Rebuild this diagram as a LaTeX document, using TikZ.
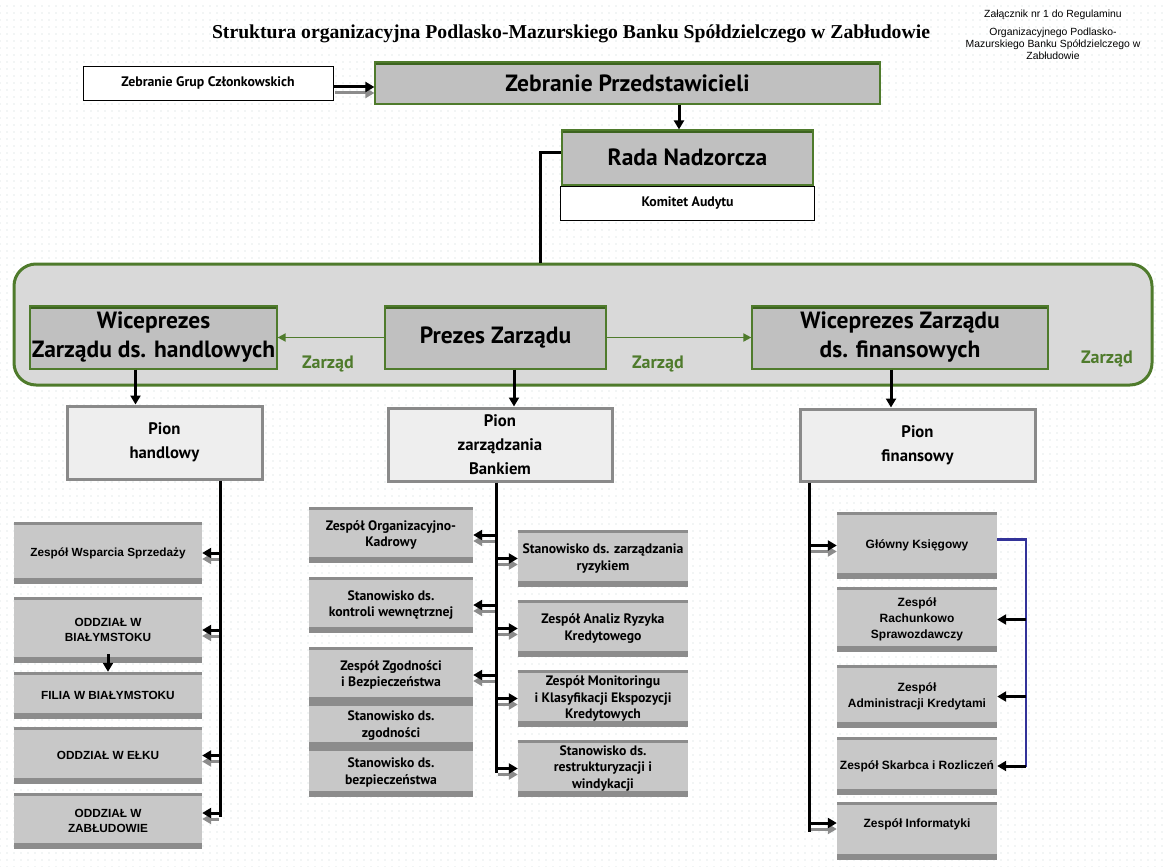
\documentclass[tikz,border=0pt]{standalone}
\usepackage{fontspec}
\setmainfont{Liberation Sans}
\newfontfamily\tahoma{PT Sans}
\newfontfamily\titlefont{Liberation Serif}
\usepackage{xcolor}
\usetikzlibrary{positioning, arrows.meta, patterns.meta}
\definecolor{zgreen}{HTML}{4F7B2C}
\definecolor{zgreendk}{HTML}{3D6420}
\definecolor{boxgray}{HTML}{C0C0C0}
\definecolor{bandfill}{HTML}{D9D9D9}
\definecolor{unitfill}{HTML}{C8C8C8}
\definecolor{unitband}{HTML}{8C8C8C}
\definecolor{pionfill}{HTML}{EEEEEE}
\definecolor{pionedge}{HTML}{8A8A8A}
\definecolor{shadowgray}{HTML}{8C8C8C}
\definecolor{lineblue}{HTML}{333399}
\definecolor{dotc}{HTML}{C8D8D8}
\begin{document}
\begin{tikzpicture}[x=1pt,y=-1pt,
zgbox/.style={draw=zgreen, line width=1.2pt, fill=boxgray, inner sep=1pt, align=center,
  font=\tahoma\bfseries\fontsize{23.5}{29}\selectfont,
  path picture={\fill[zgreendk] (path picture bounding box.north west) rectangle ([yshift=-3pt]path picture bounding box.north east);}},
plainbox/.style={draw=black, line width=0.8pt, fill=white, inner sep=1pt, font=\tahoma\bfseries\fontsize{13.8}{16}\selectfont},
pionbox/.style={draw=pionedge, line width=3pt, fill=pionfill, align=center, font=\tahoma\bfseries\fontsize{16.7}{24}\selectfont},
unitbox/.style={fill=unitfill, inner sep=1pt, align=center,
  path picture={\fill[unitband] (path picture bounding box.south west) rectangle ([yshift=6pt]path picture bounding box.south east);
  \fill[unitband] (path picture bounding box.north west) rectangle ([yshift=-2.5pt]path picture bounding box.north east);}},
lunit/.style={unitbox, minimum width=188pt, font=\bfseries\fontsize{11.8}{15}\selectfont},
munit/.style={unitbox, font=\tahoma\bfseries\fontsize{13.7}{16.5}\selectfont},
runit/.style={unitbox, minimum width=160pt, font=\bfseries\fontsize{12}{16}\selectfont},
trunk/.style={line width=3pt},
arr/.style={line width=3pt, -{Triangle[length=9pt,width=10pt]}},
shadowarr/.style={arr, draw=shadowgray, fill=shadowgray, shorten <=1.5pt},
greenarr/.style={draw=zgreen, line width=1.8pt, -{Triangle[length=8pt,width=8pt]}},
zlabel/.style={text=zgreen, font=\tahoma\bfseries\fontsize{18}{20}\selectfont}]
\fill[white] (0,0) rectangle (1168,867);
\fill[pattern={Dots[distance=7pt,radius=0.6pt]}, pattern color=dotc] (0,0) rectangle (1168,867);
\useasboundingbox (0,0) rectangle (1168,867);
\node[font=\titlefont\bfseries\fontsize{19.7}{21}\selectfont] (title) at (571,34) {Struktura organizacyjna Podlasko-Mazurskiego Banku Spółdzielczego w Zabłudowie};
\node[font=\fontsize{10.4}{12}\selectfont] (zal) at (1053,15) {Załącznik nr 1 do Regulaminu};
\node[font=\fontsize{10.4}{12}\selectfont, align=center] (reg) at (1053,44) {Organizacyjnego Podlasko-\\Mazurskiego Banku Spółdzielczego w\\Zabłudowie};
\node[zgbox, minimum width=505pt, minimum height=42pt] (zp) at (627.5,83) {Zebranie Przedstawicieli};
\node[plainbox, minimum width=250pt, minimum height=34pt] (grup) at (208,83) {Zebranie Grup Członkowskich};
\node[zgbox, minimum width=251pt, minimum height=55pt] (rada) at (687.5,157.5) {Rada Nadzorcza};
\node[plainbox, minimum width=254pt, minimum height=34pt, below=0pt of rada] (kom) {Komitet Audytu};
\node[draw=zgreen, line width=3pt, rounded corners=22pt, fill=bandfill, minimum width=1138pt, minimum height=121pt] (band) at (583,324.5) {};
\node[zgbox, minimum width=247pt, minimum height=63pt] (wh) at (153.5,337.5) {Wiceprezes\\Zarządu ds. handlowych};
\node[zgbox, minimum width=221pt, minimum height=63pt] (prez) at (495.5,337.5) {Prezes Zarządu};
\node[zgbox, minimum width=296pt, minimum height=63pt] (wf) at (900,337.5) {Wiceprezes Zarządu\\ds. finansowych};
\node[zlabel] (z1) at (328,364) {Zarząd};
\node[zlabel] (z2) at (658,364) {Zarząd};
\node[zlabel] (z3) at (1107,359) {Zarząd};
\node[pionbox, minimum width=195pt, minimum height=73pt] (ph) at (164.5,442.5) {Pion\\handlowy};
\node[pionbox, minimum width=224pt, minimum height=73pt] (pz) at (500,444.5) {Pion\\zarządzania\\Bankiem};
\node[pionbox, minimum width=235pt, minimum height=72pt] (pf) at (917.5,445) {Pion\\finansowy};
\node[lunit, minimum height=62pt] (zws) at (108,553) {Zespół Wsparcia Sprzedaży};
\node[lunit, minimum height=66pt] (obia) at (108,630) {ODDZIAŁ W\\BIAŁYMSTOKU};
\node[lunit, minimum height=47pt] (fbia) at (108,695.5) {FILIA W BIAŁYMSTOKU};
\node[lunit, minimum height=57pt] (oelk) at (108,755.5) {ODDZIAŁ W EŁKU};
\node[lunit, minimum height=56pt] (ozab) at (108,821) {ODDZIAŁ W\\ZABŁUDOWIE};
\node[munit, minimum width=164pt, minimum height=56pt] (mok) at (391,535) {Zespół Organizacyjno-\\Kadrowy};
\node[munit, minimum width=164pt, minimum height=56pt] (mkw) at (391,605) {Stanowisko ds.\\kontroli wewnętrznej};
\node[munit, minimum width=164pt, minimum height=56pt] (mzb) at (391,675) {Zespół Zgodności\\i Bezpieczeństwa};
\node[munit, minimum width=164pt, minimum height=45pt] (msz) at (391,725.5) {Stanowisko ds.\\zgodności};
\node[munit, minimum width=164pt, minimum height=49pt] (msb) at (391,772.5) {Stanowisko ds.\\bezpieczeństwa};
\node[munit, minimum width=170pt, minimum height=57pt] (mry) at (603,558.5) {Stanowisko ds. zarządzania\\ryzykiem};
\node[munit, minimum width=170pt, minimum height=57pt] (mar) at (603,628.5) {Zespół Analiz Ryzyka\\Kredytowego};
\node[munit, minimum width=170pt, minimum height=57pt] (mmk) at (603,698.5) {Zespół Monitoringu\\i Klasyfikacji Ekspozycji\\Kredytowych};
\node[munit, minimum width=170pt, minimum height=57pt] (mrw) at (603,768.5) {Stanowisko ds.\\restrukturyzacji i\\windykacji};
\node[runit, minimum height=67pt] (rgk) at (917,545.5) {Główny Księgowy};
\node[runit, minimum height=65pt] (rrs) at (917,619.5) {Zespół\\Rachunkowo\\Sprawozdawczy};
\node[runit, minimum height=63pt] (rak) at (917,696.5) {Zespół\\Administracji Kredytami};
\node[runit, minimum height=58pt] (rsr) at (917,766) {Zespół Skarbca i Rozliczeń};
\node[runit, minimum height=58pt] (rin) at (917,831) {Zespół Informatyki\\\mbox{}};
\draw[shadowarr, transform canvas={yshift=-10pt}] (grup.east) -- (grup.east -| zp.west);
\draw[arr, transform canvas={yshift=-4pt}] (grup.east) -- (grup.east -| zp.west);
\draw[arr, transform canvas={xshift=-8.5pt}] (rada.north |- zp.south) -- (rada.north);
\draw[trunk] ([yshift=5pt]rada.west) -| ([xshift=-43pt]band.north);
\draw[greenarr] (prez.west) -- (wh.east);
\draw[greenarr] (prez.east) -- (wf.west);
\draw[arr, transform canvas={xshift=-18pt}] (wh.south) -- (wh.south |- ph.north);
\draw[arr, transform canvas={xshift=18.5pt}] (prez.south) -- (prez.south |- pz.north);
\draw[arr, transform canvas={xshift=-9pt}] (wf.south) -- (wf.south |- pf.north);
\coordinate (lend) at (220,817);
\coordinate (mend) at (496,773);
\coordinate (rend) at (809,832);
\coordinate (bend) at (1026,767);
\draw[trunk] (ph.south -| lend) -- (lend);
\draw[trunk] (pz.south -| mend) -- (mend);
\draw[trunk] (pf.south -| rend) -- (rend);
\foreach \b/\a/\t/\s in {zws/east/lend/0pt, obia/east/lend/0pt, oelk/east/lend/0pt, ozab/east/lend/8pt,
  mok/east/mend/0pt, mkw/east/mend/0pt, mzb/east/mend/0pt,
  mry/west/mend/0pt, mar/west/mend/0pt, mmk/west/mend/0pt, mrw/west/mend/0pt,
  rgk/west/rend/0pt, rin/west/rend/8pt} {
\draw[shadowarr, transform canvas={yshift=\s-6pt}] (\t |- \b.\a) -- (\b.\a);
\draw[arr, transform canvas={yshift=\s}] (\t |- \b.\a) -- (\b.\a);
}
\draw[arr] ([yshift=9pt]obia.south) -- (fbia.north);
\draw[line width=2.6pt, lineblue] ([yshift=6pt]rgk.east) -| (bend);
\foreach \b in {rrs, rak, rsr}
\draw[arr] (bend |- \b.east) -- (\b.east);
\end{tikzpicture}
\end{document}
